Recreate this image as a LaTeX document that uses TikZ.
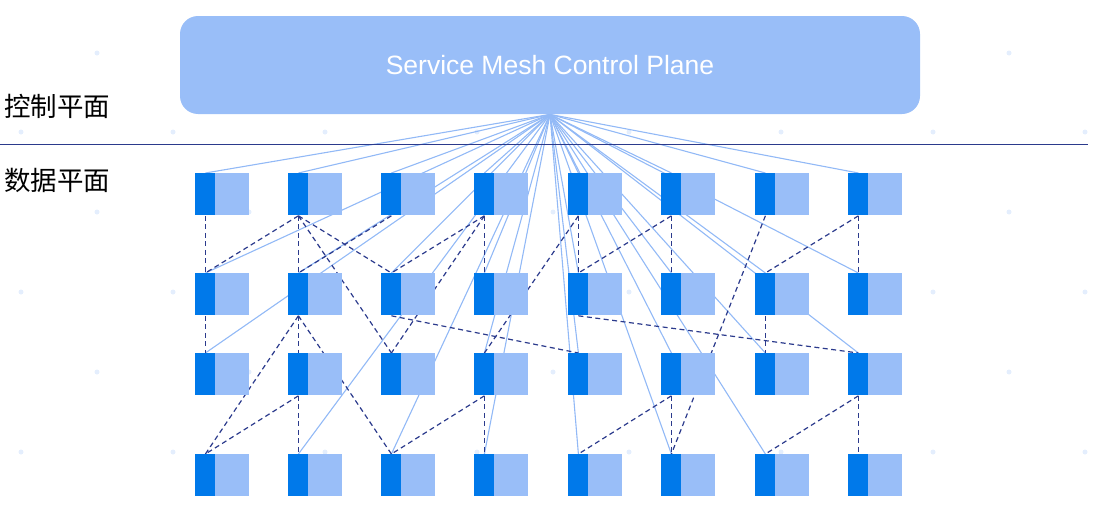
\documentclass[tikz,border=0pt]{standalone}
\usepackage{fontspec}
\setmainfont{Liberation Sans}
\newfontfamily\cjk{Noto Sans CJK SC}
\usetikzlibrary{positioning,backgrounds}
\definecolor{proxyblue}{HTML}{0079EA}
\definecolor{appblue}{HTML}{99BEF8}
\definecolor{meshnavy}{HTML}{2B3A8C}
\definecolor{feedblue}{HTML}{92B9F6}
\definecolor{dotblue}{HTML}{E4EEFD}
\begin{document}
\begin{tikzpicture}[x=1pt, y=-1pt, thick]
\tikzstyle{app}=[fill=appblue,anchor=north west,inner sep=0pt,minimum width=54pt,minimum height=42pt]
\tikzstyle{proxy}=[fill=proxyblue,anchor=north west,inner sep=0pt,minimum width=20pt,minimum height=42pt]
\tikzstyle{plane}=[fill=appblue,rounded corners=18pt,minimum width=740pt,minimum height=98pt,text=white,font=\fontsize{26.5}{30}\selectfont]
\tikzstyle{tag}=[anchor=west,inner sep=0pt,font=\cjk\fontsize{26.5}{30}\selectfont]
\tikzstyle{feed}=[draw=feedblue,line width=1.1pt]
\tikzstyle{link}=[draw=meshnavy,line width=1.2pt,dash pattern=on 5pt off 3.5pt]
\tikzstyle{boldlink}=[link,line width=1.8pt]
\useasboundingbox (0,0) rectangle (1095,522);

  \node[plane] (plane) at (550,65) {\raisebox{-2pt}{Service Mesh Control Plane}};
  \node[tag] (ctrl) at (4,106) {控制平面};
  \node[tag] (data) at (4,180) {数据平面};
  \coordinate (rule-l) at (0,144);
  \coordinate (rule-r) at (1088,144);
  \draw[meshnavy,line width=0.9pt] (rule-l) -- (rule-r);

  % sidecar grid: service with proxy strip on its left
  \foreach \col/\x in {1/195,2/288,3/381,4/474,5/568,6/661,7/755,8/848}
    \foreach \row/\y in {1/173,2/273,3/353,4/454} {
      \node[app] (a\col\row) at (\x,\y) {};
      \node[proxy] (p\col\row) at (a\col\row.north west) {};
    }

\begin{pgfonlayer}{background}
  \foreach \y in {53,212,372}
    \foreach \x in {97,249,...,1009}
      \fill[dotblue] (\x,\y) circle (2.5pt);
  \foreach \y in {132,292,452}
    \foreach \x in {21,173,...,1085}
      \fill[dotblue] (\x,\y) circle (2.5pt);
  % control plane to proxies
  \foreach \dest in {11,21,31,41,51,61,71,81,
                     12,22,32,42,52,62,72,82,
                     13,43,53,63,73,83,
                     24,34,44,54,64,74}
      \path[feed] (plane.south) edge (p\dest.north);
  % proxy to proxy traffic
  \foreach \source/\dest in {11/12,21/12,21/32,21/33,31/22,41/32,41/42,41/33,
                             51/43,61/52,61/62,71/64,81/72,81/82,
                             12/13,22/14,22/34,32/53,52/83,72/73,
                             23/14,43/34,43/44,63/54,63/64,83/74}
      \path[link] (p\source.south) edge (p\dest.north);
  \foreach \source/\dest in {21/22,51/52,22/23,23/24,83/84}
      \path[boldlink] (p\source.south) edge (p\dest.north);
\end{pgfonlayer}
\end{tikzpicture}
\end{document}
